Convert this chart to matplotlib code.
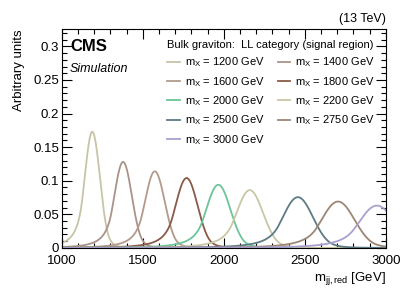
import matplotlib
matplotlib.use("Agg")
import matplotlib.pyplot as plt
from matplotlib.ticker import MultipleLocator
import numpy as np

plt.rcParams['font.family'] = ['Liberation Sans', 'DejaVu Sans']
plt.rcParams['mathtext.fontset'] = 'custom'
plt.rcParams['mathtext.rm'] = 'Liberation Sans'
plt.rcParams['mathtext.it'] = 'Liberation Sans:italic'

# signal masses and shape parameters
masses = [1200, 1400, 1600, 1800, 2000, 2200, 2500, 2750, 3000]
peak_pos = [1188, 1378, 1574, 1770, 1966, 2160, 2457, 2705, 2945]
peak_height = [0.173, 0.128, 0.114, 0.104, 0.094, 0.086, 0.0755, 0.069, 0.063]
width = [47, 54, 61, 68, 75, 82, 93, 102, 111]
colors = ['#c8c4a8', '#a89488', '#b39a8c', '#8a5a48', '#6cc49a',
          '#c9c7a5', '#5e7a84', '#9c8676', '#a9a0cf']


def crystal_ball(x, mu, sig, aL=1.3, nL=3.0, aR=2.0, nR=6.0):
    t = (x - mu) / sig
    y = np.exp(-0.5 * t**2)
    lo = t < -aL
    AL = (nL / aL) ** nL * np.exp(-0.5 * aL**2)
    BL = nL / aL - aL
    y[lo] = AL * (BL - t[lo]) ** (-nL)
    hi = t > aR
    AR = (nR / aR) ** nR * np.exp(-0.5 * aR**2)
    BR = nR / aR - aR
    y[hi] = AR * (BR + t[hi]) ** (-nR)
    return y


fig = plt.figure(figsize=(4.07, 2.92), dpi=100)
ax = fig.add_axes([0.152, 0.151, 0.796, 0.750])

x = np.linspace(1000, 3000, 1200)
lines = []
for m, mu, h, s, c in zip(masses, peak_pos, peak_height, width, colors):
    ln, = ax.plot(x, h * crystal_ball(x, mu, s), color=c, lw=1.3,
                  label='m$_{\\mathrm{X}}$ = %d GeV' % m)
    lines.append(ln)

ax.set_xlim(1000, 3000)
ax.set_ylim(0, 0.326)
ax.xaxis.set_major_locator(MultipleLocator(500))
ax.xaxis.set_minor_locator(MultipleLocator(100))
ax.yaxis.set_major_locator(MultipleLocator(0.05))
ax.yaxis.set_minor_locator(MultipleLocator(0.01))
ax.set_yticks([0, 0.05, 0.1, 0.15, 0.2, 0.25, 0.3])
ax.set_yticklabels(['0', '0.05', '0.1', '0.15', '0.2', '0.25', '0.3'])
ax.tick_params(which='both', direction='in', top=True, right=True,
               labelsize=9.5, width=0.8, pad=2)
ax.tick_params(axis='x', which='both', pad=5)
ax.tick_params(which='major', length=7)
ax.tick_params(which='minor', length=3.5)
for sp in ax.spines.values():
    sp.set_linewidth(0.8)

ax.set_ylabel('Arbitrary units', fontsize=9.5, loc='top', labelpad=6)
ax.set_xlabel('m$_{\\mathrm{jj,red}}$ [GeV]', fontsize=9.5, loc='right',
              labelpad=2)

ax.text(0.025, 0.955, 'CMS', transform=ax.transAxes, fontsize=12,
        fontweight='bold', va='top')
ax.text(0.025, 0.845, 'Simulation', transform=ax.transAxes, fontsize=9,
        style='italic', va='top')
ax.text(1.0, 1.02, '(13 TeV)', transform=ax.transAxes, fontsize=9,
        ha='right', va='bottom')

order = [0, 2, 4, 6, 8, 1, 3, 5, 7]
leg = ax.legend([lines[i] for i in order], [lines[i].get_label() for i in order],
                ncol=2, loc='upper left', bbox_to_anchor=(0.295, 0.995),
                frameon=False, fontsize=8, handlelength=1.1,
                handletextpad=0.45, columnspacing=1.2, labelspacing=0.5,
                title='Bulk graviton:  LL category (signal region)',
                title_fontsize=8, alignment='left')

fig.savefig('out.png', dpi=100)
